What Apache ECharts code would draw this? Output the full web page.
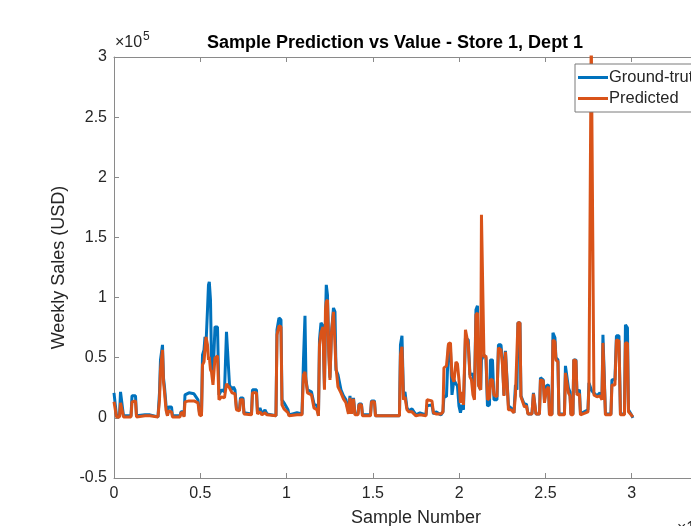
<!DOCTYPE html>
<html>
<head>
<meta charset="utf-8">
<script src="https://cdn.jsdelivr.net/npm/echarts@6/dist/echarts.min.js"></script>
<style>
    html, body { margin: 0; padding: 0; overflow: hidden; background: #fff; }
    #chart { width: 760px; height: 526px; }
</style>
</head>
<body>
<div id="chart"></div>
<script>
    // sample number (x) and weekly sales in USD
    var sampleIdx = [0, 87, 145, 319, 377, 492, 550, 985, 1043, 1246, 1304, 1796, 2086, 2549, 2636, 2694, 2810, 2868, 2926, 3013,
        3100, 3158, 3332, 3389, 3824, 3882, 3998, 4056, 4114, 4346, 4635, 4867, 4954, 5070, 5128, 5215, 5273, 5330, 5417, 5475,
        5522, 5591, 5649, 5736, 5852, 5997, 6084, 6229, 6402, 6518, 6623, 6692, 6837, 6924, 7011, 7098, 7271, 7329, 7474, 7532,
        7967, 8025, 8256, 8314, 8459, 8575, 8749, 8865, 9386, 9444, 9560, 9676, 9734, 9850, 10082, 10140, 10603, 10893, 10980, 11067,
        11124, 11211, 11443, 11588, 11762, 11849, 11907, 11994, 12109, 12196, 12254, 12301, 12370, 12446, 12515, 12602, 12718, 12805, 12863, 12979,
        13152, 13297, 13442, 13587, 13674, 13761, 13877, 13964, 14137, 14195, 14340, 14398, 14862, 14920, 15094, 15151, 16542, 16600, 16687, 16774,
        16861, 16976, 17092, 17266, 17498, 17730, 18077, 18135, 18425, 18512, 18657, 18946, 19062, 19120, 19265, 19381, 19497, 19584, 19700, 19815,
        19902, 19989, 20076, 20163, 20250, 20366, 20453, 20528, 20627, 20714, 20800, 20887, 20974, 21061, 21131, 21247, 21293, 21380, 21438, 21554,
        21641, 21757, 21815, 21931, 22017, 22191, 22278, 22423, 22510, 22597, 22684, 22770, 22857, 23002, 23176, 23263, 23350, 23408, 23524, 23582,
        23697, 23784, 23900, 23987, 24219, 24306, 24393, 24451, 24654, 24712, 24874, 24944, 25059, 25175, 25233, 25378, 25436, 25552, 25609, 25725,
        25783, 26102, 26160, 26247, 26334, 26421, 26479, 26595, 26641, 26769, 26827, 26972, 27030, 27464, 27522, 27609, 27655, 27742, 27811, 27985,
        28159, 28275, 28333, 28420, 28478, 28796, 28854, 29028, 29115, 29260, 29347, 29579, 29637, 29753, 29811, 30013, 30071];

    var groundTruth = [20800, 21600, 1700, 1700, 21600, 22400, 1700, 1700, 18300, 18300, 1700, 2500, 2500, 800, 20800, 48200, 60700, 33300, 25800, 10800,
        1700, 9100, 9100, 1700, 1700, 5000, 5000, 1700, 19100, 20800, 20000, 15000, 4200, 2500, 52400, 56500, 67300, 60700, 89800, 110600,
        113100, 98100, 48200, 33300, 75600, 75600, 19100, 23300, 21600, 71500, 71500, 27400, 23300, 25800, 23300, 7500, 6700, 16600, 16600, 4200,
        3300, 23300, 23300, 4200, 8300, 3300, 6700, 3300, 1700, 73200, 83100, 81500, 15000, 12500, 6700, 2500, 4200, 3300, 48200, 84800,
        31600, 23300, 21600, 11600, 10000, 1700, 64800, 79000, 76500, 24900, 81500, 110600, 102200, 56500, 33300, 70700, 91400, 88100, 39900, 35700,
        23300, 18300, 15000, 5000, 18300, 5000, 16600, 3300, 3300, 11600, 11600, 2500, 2500, 14100, 14100, 1700, 1700, 60700, 68200, 19100,
        21600, 8300, 5800, 7500, 2500, 4200, 2500, 10000, 10800, 3300, 5000, 2500, 5000, 18300, 17500, 60700, 56500, 19100, 31600, 28300,
        26600, 10000, 4200, 10800, 6700, 66500, 67300, 64800, 35700, 36600, 36600, 19100, 89800, 93100, 27400, 23300, 48200, 48200, 52400, 49900,
        10000, 10800, 48200, 48200, 15000, 15000, 60700, 60700, 48200, 19100, 55700, 55700, 10000, 8300, 4200, 27400, 23300, 79000, 79000, 18300,
        17500, 10800, 11600, 3300, 3300, 20800, 20800, 3300, 3300, 33300, 31600, 15000, 26600, 27400, 3300, 3300, 70700, 66500, 49900, 48200,
        3300, 3300, 43200, 43200, 24900, 21600, 3300, 3300, 48200, 48200, 20800, 23300, 3300, 6700, 29100, 29100, 23300, 21600, 20800, 18300,
        20800, 16600, 69000, 69000, 3300, 3300, 31600, 31600, 68200, 68200, 3300, 3300, 77300, 74800, 6700, 1700, 0];

    var predicted = [13300, 14100, 800, 800, 12500, 13300, 800, 800, 13300, 14100, 800, 1700, 1700, 800, 15000, 39900, 56500, 29900, 21600, 6700,
        1700, 5800, 5000, 800, 800, 4200, 4200, 800, 13300, 14100, 14100, 12500, 2500, 1700, 44100, 46600, 45700, 67300, 60700, 48200,
        50700, 39900, 38200, 27400, 49900, 51500, 15000, 17500, 16600, 28300, 29100, 24900, 20800, 21600, 20000, 6700, 5800, 15000, 15000, 3300,
        2500, 20800, 20800, 3300, 5000, 2500, 4200, 2500, 1700, 69000, 76500, 75600, 10800, 7500, 4200, 1700, 2500, 2500, 35700, 38200,
        38200, 20800, 19100, 8300, 6700, 1700, 60700, 70700, 75600, 23300, 89800, 96400, 98100, 52400, 31600, 70700, 88100, 88100, 42400, 25800,
        20800, 15800, 12500, 3300, 16600, 3300, 15800, 2500, 2500, 10800, 10800, 1700, 1700, 13300, 13300, 1700, 1700, 52400, 59000, 15000,
        17500, 6700, 5000, 5000, 1700, 2500, 1700, 15000, 14100, 4200, 3300, 3300, 5000, 41600, 43200, 61500, 62300, 34900, 29900, 46600,
        44900, 31600, 12500, 21600, 10800, 73200, 74800, 60700, 34100, 31600, 19100, 15000, 85600, 87300, 26600, 23300, 168800, 168800, 50700, 51500,
        15000, 16600, 31600, 31600, 19100, 17500, 58200, 56500, 44100, 18300, 54900, 54900, 6700, 6700, 4200, 19100, 18300, 79000, 79000, 17500,
        17500, 9100, 10000, 3300, 3300, 20000, 20000, 3300, 3300, 31600, 30800, 12500, 23300, 25800, 2500, 2500, 64800, 63200, 48200, 46600,
        2500, 2500, 37400, 36600, 20800, 18300, 2500, 2500, 48200, 47400, 19100, 20000, 2500, 5000, 25800, 25800, 320000, 320000, 19100, 17500,
        18300, 15000, 62300, 62300, 2500, 2500, 27400, 27400, 64800, 64000, 2500, 2500, 62300, 62300, 5000, 1700, 800];

    var xTicks = [0, 0.5, 1, 1.5, 2, 2.5, 3, 3.5];      // x 10^4
    var yTicks = [-0.5, 0, 0.5, 1, 1.5, 2, 2.5, 3];     // x 10^5

    var font = '"Liberation Sans", Arial, Helvetica, sans-serif';
    var axisGray = '#8a8a8a';
    var textDark = '#262626';

    function pairs(ys) {
        var out = [];
        for (var i = 0; i < sampleIdx.length; i++) {
            out.push([sampleIdx[i], ys[i]]);
        }
        return out;
    }

    var chart = echarts.init(document.getElementById('chart'));

    var option = {
        animation: false,
        backgroundColor: '#fff',
        title: {
            text: 'Sample Prediction vs Value - Store 1, Dept 1',
            left: 202,
            top: 29,
            textStyle: { fontFamily: font, fontSize: 18, fontWeight: 'bold', color: '#000' }
        },
        legend: {
            orient: 'vertical',
            left: 575,
            top: 64,
            icon: 'rect',
            itemWidth: 30,
            itemHeight: 3,
            itemGap: 4,
            padding: [5, 8, 5, 3],
            backgroundColor: '#fff',
            borderColor: '#7a7a7a',
            borderWidth: 1,
            borderRadius: 0,
            textStyle: { fontFamily: font, fontSize: 16.5, color: textDark, padding: [0, 0, 0, -4] },
            data: ['Ground-truth', 'Predicted']
        },
        grid: { left: 114, top: 57, right: 42, bottom: 48, outerBoundsMode: 'none', containLabel: false },
        xAxis: [{
            type: 'value',
            min: xTicks[0] * 1e4,
            max: xTicks[xTicks.length - 1] * 1e4,
            interval: 5000,
            name: 'Sample Number',
            nameLocation: 'middle',
            nameGap: 31,
            nameTextStyle: { fontFamily: font, fontSize: 18, color: textDark },
            axisLine: { onZero: false, lineStyle: { color: axisGray, width: 1 } },
            axisTick: { inside: true, length: 5, lineStyle: { color: axisGray } },
            axisLabel: {
                fontFamily: font, fontSize: 16, color: textDark, margin: 8,
                formatter: function (v) { return String(v / 1e4); }
            },
            splitLine: { show: false }
        }, {
            type: 'value',
            position: 'top',
            min: xTicks[0] * 1e4,
            max: xTicks[xTicks.length - 1] * 1e4,
            interval: 5000,
            axisLine: { show: true, onZero: false, lineStyle: { color: axisGray, width: 1 } },
            axisTick: { inside: true, length: 5, lineStyle: { color: axisGray } },
            axisLabel: { show: false },
            splitLine: { show: false }
        }],
        yAxis: [{
            type: 'value',
            min: yTicks[0] * 1e5,
            max: yTicks[yTicks.length - 1] * 1e5,
            interval: 50000,
            name: 'Weekly Sales (USD)',
            nameLocation: 'middle',
            nameGap: 43,
            nameTextStyle: { fontFamily: font, fontSize: 18, color: textDark },
            axisLine: { show: true, onZero: false, lineStyle: { color: axisGray, width: 1 } },
            axisTick: { show: true, inside: true, length: 5, lineStyle: { color: axisGray } },
            axisLabel: {
                fontFamily: font, fontSize: 16, color: textDark, margin: 7,
                formatter: function (v) { return String(Math.round(v / 1e4) / 10); }
            },
            splitLine: { show: false }
        }, {
            type: 'value',
            position: 'right',
            min: yTicks[0] * 1e5,
            max: yTicks[yTicks.length - 1] * 1e5,
            interval: 50000,
            axisLine: { show: true, onZero: false, lineStyle: { color: axisGray, width: 1 } },
            axisTick: { show: true, inside: true, length: 5, lineStyle: { color: axisGray } },
            axisLabel: { show: false },
            splitLine: { show: false }
        }],
        graphic: [
            { type: 'text', left: 115, top: 35, style: { text: '×10', fontFamily: font, fontSize: 16, fill: textDark } },
            { type: 'text', left: 143, top: 31, style: { text: '5', fontFamily: font, fontSize: 12, fill: textDark } },
            { type: 'text', left: 677, top: 521, style: { text: '×10', fontFamily: font, fontSize: 16, fill: textDark } }
        ],
        series: [{
            name: 'Ground-truth',
            type: 'line',
            symbol: 'none',
            clip: true,
            color: '#0072BD',
            lineStyle: { width: 3, color: '#0072BD' },
            data: pairs(groundTruth)
        }, {
            name: 'Predicted',
            type: 'line',
            symbol: 'none',
            clip: true,
            color: '#D95319',
            lineStyle: { width: 3, color: '#D95319' },
            data: pairs(predicted)
        }]
    };

    chart.setOption(option);
</script>
</body>
</html>
